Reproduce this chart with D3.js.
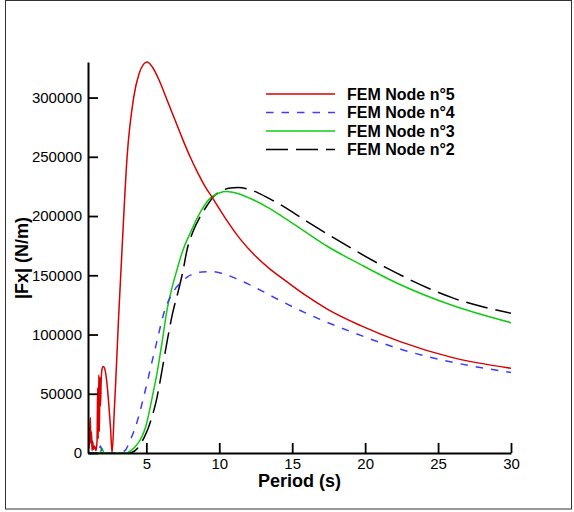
<!DOCTYPE html>
<html>
<head>
<meta charset="utf-8">
<script src="https://cdn.jsdelivr.net/npm/d3@7"></script>
<style>
html,body{margin:0;padding:0;background:#fff;}
svg{display:block;font-family:Arial,"Liberation Sans",sans-serif;}
</style>
</head>
<body>
<svg id="chart" width="574" height="512"></svg>
<script>
// ---- data ----
const seriesNames = ["FEM Node n°5", "FEM Node n°4", "FEM Node n°3", "FEM Node n°2"];
const xTickLabels = [5, 10, 15, 20, 25, 30];
const yTickLabels = [0, 50000, 100000, 150000, 200000, 250000, 300000];

const periods5 = [1.0,1.04,1.08,1.12,1.16,1.2,1.24,1.28,1.32,1.38,1.45,1.55,1.62,1.66,1.7,1.74,1.78,1.82,1.86,1.9,1.95,2.05,2.15,2.25,2.4,2.55,2.65,2.8,2.9,3.1,3.33,3.68,4.13,4.5,4.8,5.05,5.4,5.9,6.42,7.0,7.5,8.0,8.5,9.0,9.5,10.4,11.44,12.5,13.5,14.2,15.8,17.4,19.7,22.4,26.0,30.0];
const node5 = [3000,22000,4000,15000,30000,8000,18000,2000,10000,3000,6000,2000,10000,55000,12000,66000,18000,64000,40000,60000,70000,73000,71000,64000,45000,20000,0,35000,60000,115000,171000,250000,300000,320000,328000,330000,326000,314000,298000,280000,264500,250000,237000,225500,216000,198500,180500,166000,155000,148500,134000,121500,107500,94000,80500,71500];

const periods4 = [1.0,1.7,1.85,2.0,2.5,3.0,3.3,3.6,3.9,4.2,4.47,4.75,5.05,5.35,5.7,6.2,6.7,7.33,7.8,8.24,8.8,9.5,10.2,11.0,12.0,13.5,14.2,16.2,19.0,22.6,26.3,30.0];
const node4 = [0,0,6000,0,0,0,500,3000,11000,20000,30700,44000,59000,75000,93000,118000,133000,143500,148500,151200,152800,153100,151500,148000,142500,133000,128500,116600,102500,87000,75800,68000];

const periods3 = [1.0,1.8,1.96,2.1,2.5,3.0,3.5,4.0,4.35,4.7,5.0,5.27,5.5,5.73,6.07,6.42,6.75,7.1,7.5,8.0,8.6,9.38,10.0,10.5,11.2,12.1,13.5,14.2,15.8,17.4,19.7,22.2,26.0,30.0];
const node3 = [0,0,4000,0,0,0,0,2500,7000,13800,24000,39000,53000,67300,93000,120800,139000,154600,171000,185500,201000,215100,219500,220700,219200,215000,206000,200500,187500,174500,159000,143300,124500,110000];

const periods2 = [1.0,3.5,4.0,4.4,4.82,5.1,5.39,5.7,5.96,6.42,6.8,7.21,7.5,7.79,8.2,8.7,9.2,9.61,10.2,10.75,11.3,11.9,13.5,14.2,16.0,18.06,21.5,26.05,30.0];
const node2 = [0,0,500,4000,12400,20000,30700,45000,61700,94000,118000,137700,153000,171500,187000,199600,209500,216500,221500,223600,224000,223000,214300,209500,195500,180000,156000,130700,118000];

// ---- styles ----
const colors = ["#d80000", "#3c3cff", "#10cc10", "#000000"];
const dashes = [null, "7.5,8", null, "22,8"];

const svg = d3.select("#chart");
const x0 = 88, x1 = 511, yTop = 62, yBot = 453;

// frame
svg.append("rect").attr("x", 5.5).attr("y", 0.5).attr("width", 566).attr("height", 508.5)
  .attr("fill", "none").attr("stroke", "#333").attr("stroke-width", 1);

const x = d3.scaleLinear().domain([1, 30]).range([x0, x1]);
const y = d3.scaleLinear().domain([0, 330000]).range([yBot, yTop]);

svg.append("clipPath").attr("id", "clip").append("rect")
  .attr("x", x0).attr("y", yTop - 2).attr("width", x1 - x0).attr("height", yBot - yTop + 2);

const seriesX = [periods5, periods4, periods3, periods2];
const seriesY = [node5, node4, node3, node2];

const line = d3.line().x(d => x(d[0])).y(d => y(d[1])).curve(d3.curveMonotoneX);
const g = svg.append("g").attr("clip-path", "url(#clip)");
[3, 2, 1, 0].forEach(i => {
  const pts = seriesX[i].map((v, k) => [v, seriesY[i][k]]);
  g.append("path").datum(pts).attr("d", line)
    .attr("fill", "none").attr("stroke", colors[i]).attr("stroke-width", 1.5)
    .attr("stroke-dasharray", dashes[i]);
});

// axes
const minorX = d3.range(2, 31).filter(v => v % 5 !== 0);
const minorY = d3.range(10000, 330001, 10000).filter(v => v % 50000 !== 0);

const xg = svg.append("g").attr("transform", `translate(0,${yBot})`);
xg.call(d3.axisBottom(x).tickValues(minorX).tickSize(-5).tickFormat("").tickSizeOuter(0));
xg.call(d3.axisBottom(x).tickValues(xTickLabels).tickSize(-10).tickPadding(5).tickSizeOuter(0));
const yg = svg.append("g").attr("transform", `translate(${x0},0)`);
yg.call(d3.axisLeft(y).tickValues(minorY).tickSize(-5).tickFormat("").tickSizeOuter(0));
yg.call(d3.axisLeft(y).tickValues(yTickLabels).tickSize(-10).tickPadding(6).tickFormat(d3.format("d")).tickSizeOuter(0));

svg.selectAll(".domain").attr("stroke", "#000").attr("stroke-width", 2);
svg.selectAll(".tick line").attr("stroke", "#000").attr("stroke-width", 1.8);
svg.selectAll(".tick text").attr("font-size", 15).attr("fill", "#000")
  .attr("font-family", "Arial, 'Liberation Sans', sans-serif");

// axis titles
svg.append("text").attr("x", (x0 + x1) / 2).attr("y", 487).attr("text-anchor", "middle")
  .attr("font-size", 18).attr("font-weight", "bold").text("Period (s)");
svg.append("text").attr("transform", `translate(28,258) rotate(-90)`).attr("text-anchor", "middle")
  .attr("font-size", 18).attr("font-weight", "bold").text("|Fx| (N/m)");

// legend
const leg = svg.append("g");
const legY = [94, 112.5, 131, 149.5];
seriesNames.forEach((name, i) => {
  leg.append("line").attr("x1", 266).attr("x2", 335).attr("y1", legY[i]).attr("y2", legY[i])
    .attr("stroke", colors[i]).attr("stroke-width", 1.5).attr("stroke-dasharray", dashes[i]);
  leg.append("text").attr("x", 347).attr("y", legY[i] + 5.5).attr("font-size", 16)
    .attr("font-weight", "bold").text(name);
});
</script>
</body>
</html>
